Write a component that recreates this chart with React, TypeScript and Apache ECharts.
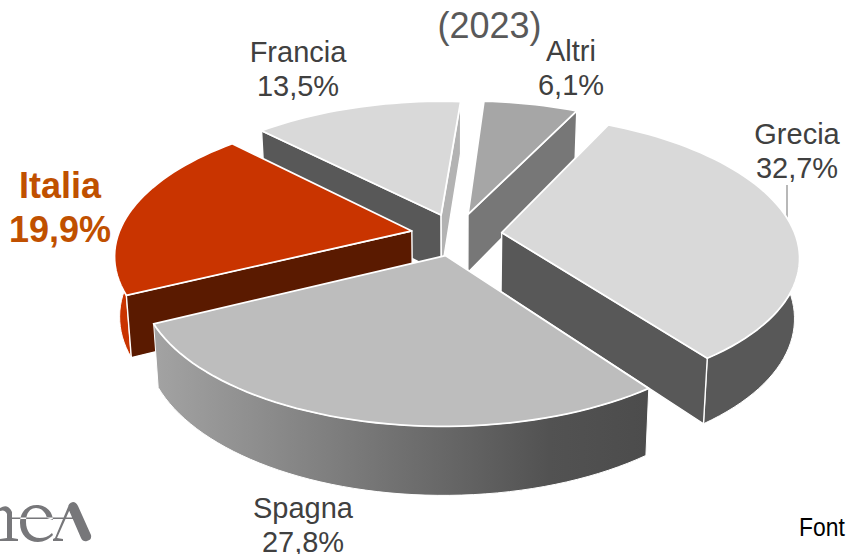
import React, { useEffect, useRef } from "react";
import * as echarts from "echarts";

const categories = ["Grecia", "Spagna", "Italia", "Francia", "Altri"];
const shares = [32.7, 27.8, 19.9, 13.5, 6.1];
const paintOrder = ["Altri", "Francia", "Italia", "Grecia", "Spagna"];
const titleFragment = "(2023)";
const sourceFragment = "Font";

const START = 26;
const CX = 456.5, CY = 234.5, R = 293.5, RY = 137, PERSP_X = 0.16, PERSP_Y = 0.155, EXPLODE = 0.155, DEPTH = 60, BOTTOM = 0.985;
const rad = (d: number) => (d * Math.PI) / 180;

type Look = { top: string; wall: any; start: string; end: string };
const spagnaWall = new echarts.graphic.LinearGradient(0, 0, 1, 0, [
  { offset: 0, color: "#a3a3a3" },
  { offset: 0.5, color: "#707070" },
  { offset: 0.8, color: "#525252" },
  { offset: 1, color: "#4c4c4c" },
]);
const looks: Record<string, Look> = {
  Grecia: { top: "#d9d9d9", wall: "#585858", start: "#585858", end: "#585858" },
  Spagna: { top: "#bdbdbd", wall: spagnaWall, start: "#777777", end: "#777777" },
  Italia: { top: "#c93400", wall: "#c93400", start: "#5a1a00", end: "#5a1a00" },
  Francia: { top: "#d9d9d9", wall: "#b3b3b3", start: "#585858", end: "#b3b3b3" },
  Altri: { top: "#a6a6a6", wall: "#777777", start: "#777777", end: "#777777" },
};

function project(x: number, y: number, down: boolean): number[] {
  const f = down ? BOTTOM : 1;
  const sx = (1 / (1 + PERSP_X * y)) * f;
  const sy = (1 / (1 + PERSP_Y * y)) * f;
  return [CX + R * x * sx, CY - RY * y * sy + (down ? DEPTH * sy : 0)];
}

const bounds: Record<string, number[]> = {};
{
  let a = START;
  const total = shares.reduce((p, c) => p + c, 0);
  categories.forEach((c, i) => {
    const b = a + (shares[i] / total) * 360;
    bounds[c] = [a, b];
    a = b;
  });
}

function renderSlice(params: any, api: any) {
  const a = api.value(0) as number;
  const b = api.value(1) as number;
  const name = paintOrder[params.dataIndex];
  const look = looks[name];
  const mid = (a + b) / 2;
  const ax = EXPLODE * Math.sin(rad(mid));
  const ay = EXPLODE * Math.cos(rad(mid));
  const arc: number[][] = [];
  const steps = Math.max(8, Math.ceil((b - a) / 2));
  for (let i = 0; i <= steps; i++) {
    const t = rad(a + ((b - a) * i) / steps);
    arc.push([ax + Math.sin(t), ay + Math.cos(t)]);
  }
  const up = (p: number[]) => project(p[0], p[1], false);
  const dn = (p: number[]) => project(p[0], p[1], true);
  const poly = (points: number[][], fill: any, lineWidth = 1.4) => ({
    type: "polygon",
    shape: { points },
    style: { stroke: "#ffffff", lineWidth, lineJoin: "round", fill },
  });
  const apex = [ax, ay];
  const children: any[] = [];
  children.push(poly([...arc.map(up), ...arc.slice().reverse().map(dn)], look.wall, 1));
  // a radial face shows only when its outward normal points at the viewer
  if (Math.cos(rad(a - 90)) < 0) {
    const o = arc[0];
    children.push(poly([up(apex), up(o), dn(o), dn(apex)], look.start));
  }
  if (Math.cos(rad(b + 90)) < 0) {
    const o = arc[arc.length - 1];
    children.push(poly([up(apex), up(o), dn(o), dn(apex)], look.end));
  }
  children.push(poly([up(apex), ...arc.map(up)], look.top, 1.8));
  return { type: "group", children };
}

const label = (text: string, x: number, y: number, fontSize = 29, fill = "#404040", fontWeight = "normal", lineHeight = 34) => ({
  type: "text",
  x,
  y,
  silent: true,
  style: {
    text,
    fill,
    fontSize,
    fontWeight,
    lineHeight,
    fontFamily: "'Liberation Sans', Arial, sans-serif",
    align: "center",
    verticalAlign: "middle",
  },
});
const pct = (name: string) => shares[categories.indexOf(name)].toFixed(1).replace(".", ",") + "%";

const logoPath =
  "M0 508 Q8 503 12 512 L12 538 L18 539 L18 541 L0 541 L0 539 L7 538 L7 514 Q5 509 0 511 Z " +
  "M53 520 C52 508 42 505 37 505 C26 505 20 513 20 523 C20 535 28 542 38 542 C44 542 49 539 53 535 L52 533 C48 537 44 538 40 538 C31 538 26 531 26 522 C26 513 30 508 36 508 C42 508 46 513 47 518 Z " +
  "M10 517.5 L80 517.5 L80 519 L10 519 Z " +
  "M68 507 L70 509 L57 538 L63 539 L63 541 L53 541 L53 539 L55 538 Z " +
  "M68 508 Q68 503 73 502 Q76 502 78 506 L91 535 Q92 540 87 541 Q83 542 81 538 Z";
echarts.graphic.registerShape("logoMark", echarts.graphic.extendPath(logoPath, {}));

export default function App() {
  const ref = useRef<HTMLDivElement>(null);
  useEffect(() => {
    const chart = echarts.init(ref.current!, undefined, { renderer: "svg" });
    chart.setOption({
      animation: false,
      backgroundColor: "#ffffff",
      series: [
        {
          type: "custom",
          coordinateSystem: "none",
          renderItem: renderSlice,
          silent: true,
          data: paintOrder.map((n) => ({ name: n, value: bounds[n] })),
        },
      ],
      graphic: [
        label(titleFragment, 489.5, 25, 36, "#595959"),
        label(`Francia\n${pct("Francia")}`, 298, 69),
        label(`Altri\n${pct("Altri")}`, 571, 68),
        label(`Grecia\n${pct("Grecia")}`, 797, 151),
        label(`Spagna\n${pct("Spagna")}`, 303, 525),
        label(`Italia\n${pct("Italia")}`, 60, 207, 36, "#c05000", "bold", 44),
        { type: "line", silent: true, shape: { x1: 787, y1: 185, x2: 787, y2: 220 }, style: { stroke: "#a0a0a0", lineWidth: 1.5 } },
        { type: "logoMark", silent: true, style: { fill: "#77777a" } },
        {
          type: "text",
          x: 799,
          y: 514,
          scaleX: 0.88,
          silent: true,
          style: { text: sourceFragment, fill: "#000000", fontSize: 26, fontFamily: "'Liberation Sans', sans-serif" },
        },
      ],
    });
    return () => chart.dispose();
  }, []);
  return <div ref={ref} style={{ position: "fixed", left: 0, top: 0, width: 846, height: 554, overflow: "hidden" }} />;
}
